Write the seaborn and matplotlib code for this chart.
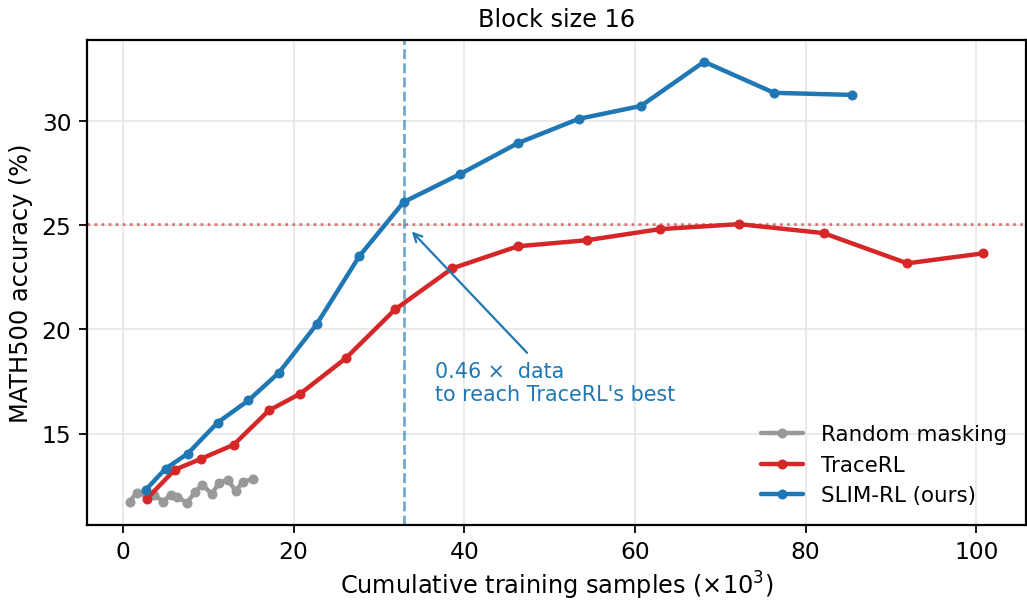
import numpy as np
import pandas as pd
import seaborn as sns
import matplotlib
matplotlib.use("Agg")
import matplotlib.pyplot as plt

# Dados (x em milhares de amostras, y em % de acerto no MATH500)
random_x = [0.8, 1.6, 2.6, 3.7, 4.7, 5.6, 6.4, 7.5, 8.5, 9.3, 10.4, 11.3, 12.3, 13.2, 14.1, 15.3]
random_y = [11.73, 12.16, 12.16, 12.07, 11.73, 12.07, 11.97, 11.68, 12.21, 12.55, 12.12, 12.64, 12.79, 12.26, 12.69, 12.84]

tracerl_x = [2.8, 6.1, 9.2, 13.0, 17.1, 20.8, 26.1, 31.9, 38.6, 46.3, 54.4, 62.9, 72.2, 82.1, 91.9, 100.8]
tracerl_y = [11.88, 13.27, 13.80, 14.47, 16.11, 16.92, 18.61, 20.96, 22.93, 23.99, 24.28, 24.81, 25.05, 24.62, 23.17, 23.65]

slim_x = [2.7, 5.0, 7.6, 11.1, 14.7, 18.3, 22.7, 27.7, 32.9, 39.5, 46.3, 53.4, 60.7, 68.1, 76.3, 85.4]
slim_y = [12.31, 13.32, 14.04, 15.53, 16.59, 17.93, 20.24, 23.51, 26.11, 27.45, 28.94, 30.10, 30.72, 32.84, 31.35, 31.25]

metodos = ['Random masking', 'TraceRL', 'SLIM-RL (ours)']
cores = {'Random masking': '#999999', 'TraceRL': '#d62728', 'SLIM-RL (ours)': '#1f77b4'}

df = pd.concat([
    pd.DataFrame({'x': random_x, 'y': random_y, 'metodo': 'Random masking'}),
    pd.DataFrame({'x': tracerl_x, 'y': tracerl_y, 'metodo': 'TraceRL'}),
    pd.DataFrame({'x': slim_x, 'y': slim_y, 'metodo': 'SLIM-RL (ours)'}),
], ignore_index=True)

# melhor resultado do TraceRL e ponto onde o SLIM-RL o alcança
melhor_tracerl = max(tracerl_y)
x_alcance = 32.9

sns.set_style('ticks')
plt.rcParams['font.family'] = ['DejaVu Sans']
plt.rcParams['text.color'] = 'black'
plt.rcParams['axes.labelcolor'] = 'black'
plt.rcParams['xtick.color'] = 'black'
plt.rcParams['ytick.color'] = 'black'

fig = plt.figure(figsize=(6.42, 3.76), dpi=160)
ax = fig.add_axes([0.0847, 0.1265, 0.914, 0.8065])

sns.lineplot(data=df, x='x', y='y', hue='metodo', hue_order=metodos, palette=cores,
             marker='o', markersize=4.5, markeredgewidth=0, linewidth=2,
             estimator=None, sort=False, ax=ax)

ax.axhline(melhor_tracerl, color='#d62728', linestyle=':', linewidth=1.2, alpha=0.65, zorder=1)
ax.axvline(x_alcance, color='#1f77b4', linestyle='--', linewidth=1.2, alpha=0.65, zorder=1)

ax.annotate("0.46 \u00d7  data\nto reach TraceRL's best",
            xy=(x_alcance + 0.6, melhor_tracerl - 0.2), xytext=(36.6, 17.45),
            ha='left', va='center', color='#1f77b4', fontsize=9.3,
            arrowprops=dict(arrowstyle='->', color='#1f77b4', linewidth=1.0))

ax.grid(True, color='#e8e8e8', linewidth=0.8)
ax.set_axisbelow(True)
for s in ax.spines.values():
    s.set_visible(True)
    s.set_color('black')
    s.set_linewidth(1.0)

ax.set_xticks([0, 20, 40, 60, 80, 100])
ax.set_yticks([15, 20, 25, 30])
ax.tick_params(labelsize=10.5, length=3.5)
ax.set_xlabel('Cumulative training samples ($\\times10^3$)', fontsize=10.8, labelpad=2.8)
ax.set_ylabel('MATH500 accuracy (%)', fontsize=10.8)
ax.set_title('Block size 16', fontsize=10.8)

leg = ax.legend(loc='lower right', frameon=False, fontsize=9.6, title=None)

plt.savefig('out.png', dpi=160)
